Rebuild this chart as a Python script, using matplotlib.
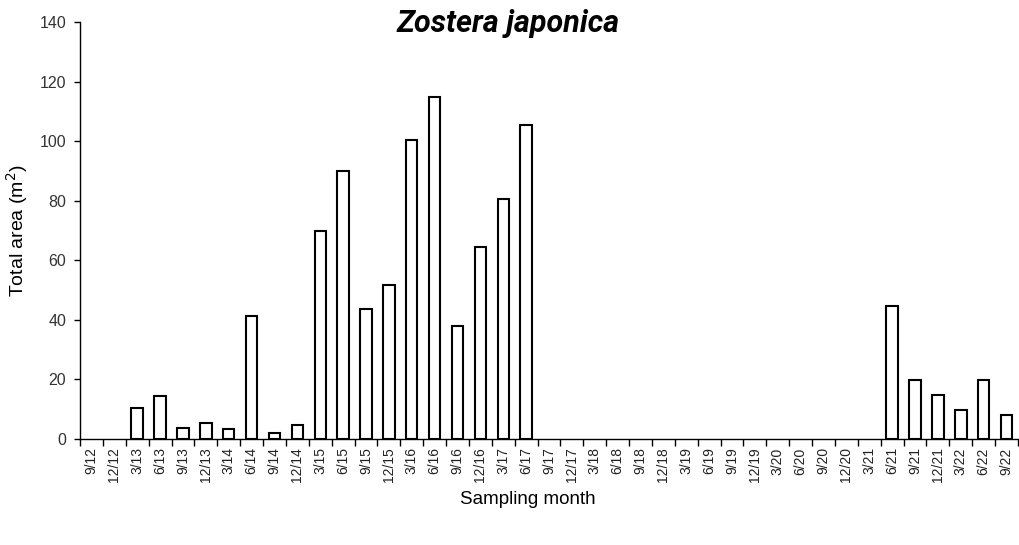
import matplotlib
matplotlib.use("Agg")
import matplotlib.pyplot as plt
import numpy as np

months = ["9/12","12/12","3/13","6/13","9/13","12/13","3/14","6/14","9/14","12/14",
          "3/15","6/15","9/15","12/15","3/16","6/16","9/16","12/16","3/17","6/17",
          "9/17","12/17","3/18","6/18","9/18","12/18","3/19","6/19","9/19","12/19",
          "3/20","6/20","9/20","12/20","3/21","6/21","9/21","12/21","3/22","6/22","9/22"]
area = [0, 0, 10.3, 14.5, 3.8, 5.3, 3.4, 41.4, 1.9, 4.6,
        69.8, 89.9, 43.6, 51.7, 100.4, 114.8, 38.0, 64.6, 80.6, 105.4,
        0, 0, 0, 0, 0, 0, 0, 0, 0, 0,
        0, 0, 0, 0, 0, 44.8, 19.9, 14.9, 9.8, 19.9, 7.9]

plt.rcParams['font.family'] = ['Liberation Sans', 'DejaVu Sans']

fig = plt.figure(figsize=(10.19, 5.45), dpi=100)
ax = fig.add_axes([80/1019, 1-439/545, (1018-80)/1019, (439-22)/545])

x = np.arange(len(months))
vals = np.array(area)
mask = vals > 0
ax.bar(x[mask], vals[mask], width=0.5, facecolor='white', edgecolor='black', linewidth=1.5)

ax.set_xlim(-0.5, len(months)-0.5)
ax.set_ylim(0, 140)
ax.set_yticks(np.arange(0, 141, 20))
ax.tick_params(axis='y', labelsize=11.5, direction='out', length=4, width=1, pad=6,
               labelcolor='#333333')
ax.set_xticks(x)
ax.set_xticklabels(months, rotation=90, fontsize=10, color='#222222')
ax.tick_params(axis='x', which='major', length=0, pad=6)
ax.set_xticks(np.arange(-0.5, len(months), 1), minor=True)
ax.tick_params(axis='x', which='minor', length=5, width=1, direction='out')

for s in ['top', 'right']:
    ax.spines[s].set_visible(False)
for s in ['left', 'bottom']:
    ax.spines[s].set_linewidth(1)

ax.set_ylabel("Total area (m$^2$)", fontsize=14, labelpad=7)
fig.text(528/1019, 1-500/545, "Sampling month", fontsize=13.5, ha='center', va='center')
fig.text(508/1019, 1-24/545, "Zostera japonica", fontsize=22, fontweight='bold',
         fontstyle='italic', ha='center', va='center', family=['Roboto', 'DejaVu Sans'])

fig.savefig("out.png", dpi=100)
